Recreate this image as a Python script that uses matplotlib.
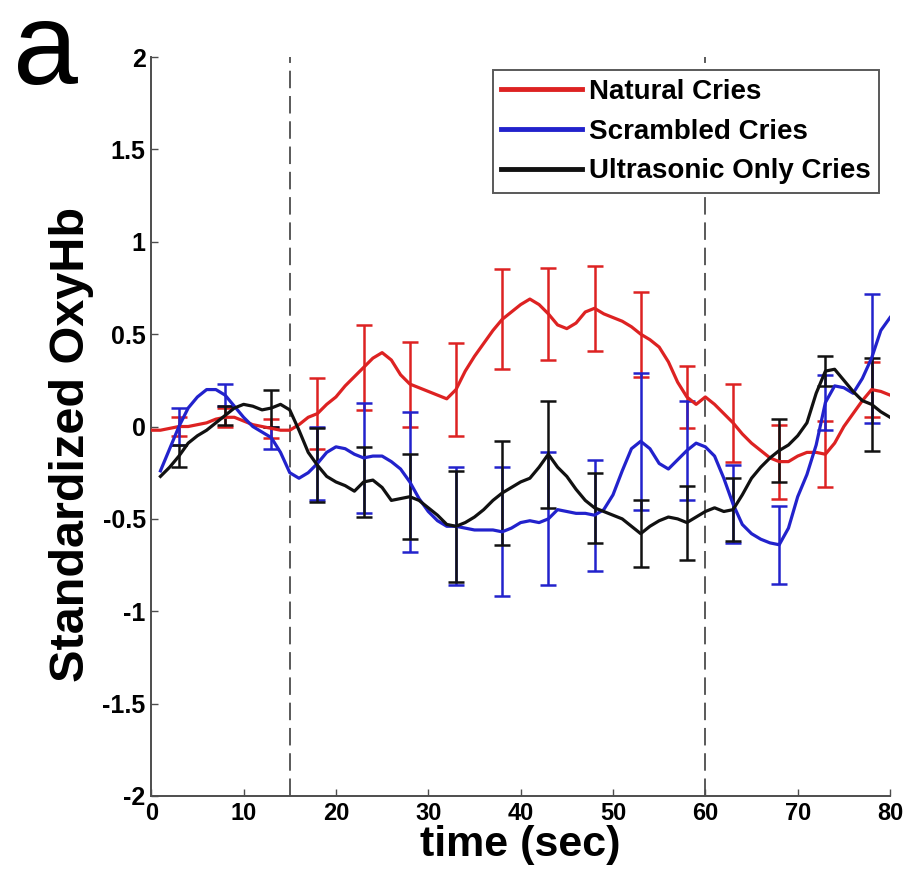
import numpy as np
import matplotlib
matplotlib.use("Agg")
import matplotlib.pyplot as plt

plt.rcParams['font.family'] = ['Liberation Sans', 'DejaVu Sans']

# time axis (sec)
t_red = list(range(0, 81))
t_other = list(range(1, 81))

natural = [-0.02, -0.02, -0.01, 0.00, 0.00, 0.01, 0.02, 0.04, 0.05, 0.05,
           0.03, 0.01, 0.00, -0.01, -0.02, -0.02, 0.01, 0.05, 0.07, 0.12,
           0.16, 0.22, 0.27, 0.32, 0.37, 0.40, 0.36, 0.28, 0.23, 0.21,
           0.19, 0.17, 0.15, 0.20, 0.30, 0.38, 0.45, 0.52, 0.58, 0.62,
           0.66, 0.69, 0.66, 0.61, 0.55, 0.53, 0.56, 0.62, 0.64, 0.61,
           0.59, 0.57, 0.54, 0.50, 0.47, 0.43, 0.35, 0.24, 0.16, 0.12,
           0.16, 0.12, 0.07, 0.02, -0.04, -0.09, -0.13, -0.17, -0.19, -0.19,
           -0.16, -0.14, -0.14, -0.15, -0.09, 0.00, 0.07, 0.14, 0.20, 0.19,
           0.17]

scrambled = [-0.24, -0.12, 0.00, 0.10, 0.16, 0.20, 0.20, 0.17, 0.11, 0.05,
             0.00, -0.03, -0.06, -0.14, -0.25, -0.28, -0.25, -0.20, -0.14, -0.11,
             -0.12, -0.15, -0.17, -0.16, -0.16, -0.19, -0.23, -0.30, -0.39, -0.46,
             -0.51, -0.54, -0.54, -0.55, -0.56, -0.56, -0.56, -0.57, -0.55, -0.52,
             -0.51, -0.52, -0.50, -0.45, -0.46, -0.47, -0.47, -0.48, -0.45, -0.37,
             -0.24, -0.12, -0.08, -0.12, -0.20, -0.23, -0.18, -0.13, -0.09, -0.11,
             -0.16, -0.28, -0.42, -0.53, -0.58, -0.61, -0.63, -0.64, -0.55, -0.38,
             -0.26, -0.10, 0.13, 0.22, 0.21, 0.18, 0.26, 0.37, 0.52, 0.59]

ultrasonic = [-0.27, -0.22, -0.16, -0.09, -0.05, -0.02, 0.02, 0.06, 0.10, 0.12,
              0.11, 0.09, 0.10, 0.12, 0.09, -0.02, -0.14, -0.21, -0.27, -0.30,
              -0.32, -0.35, -0.30, -0.29, -0.33, -0.40, -0.39, -0.38, -0.40, -0.44,
              -0.48, -0.53, -0.54, -0.52, -0.49, -0.45, -0.40, -0.36, -0.33, -0.30,
              -0.28, -0.22, -0.15, -0.22, -0.27, -0.34, -0.40, -0.44, -0.46, -0.48,
              -0.50, -0.54, -0.58, -0.54, -0.51, -0.49, -0.50, -0.52, -0.49, -0.46,
              -0.44, -0.46, -0.45, -0.37, -0.28, -0.22, -0.17, -0.13, -0.10, -0.05,
              0.02, 0.18, 0.30, 0.31, 0.25, 0.19, 0.14, 0.12, 0.08, 0.05]

# error bars every 5 s
err_t = [3, 8, 13, 18, 23, 28, 33, 38, 43, 48, 53, 58, 63, 68, 73, 78]
natural_err = [0.05, 0.05, 0.05, 0.19, 0.23, 0.23, 0.25, 0.27,
               0.25, 0.23, 0.23, 0.17, 0.21, 0.20, 0.18, 0.15]
scrambled_err = [0.10, 0.06, 0.06, 0.20, 0.30, 0.38, 0.32, 0.35,
                 0.36, 0.30, 0.37, 0.27, 0.21, 0.21, 0.15, 0.35]
ultrasonic_err = [0.06, 0.05, 0.10, 0.20, 0.19, 0.23, 0.30, 0.28,
                  0.29, 0.19, 0.18, 0.20, 0.17, 0.17, 0.08, 0.25]

series = [
    ("Natural Cries", t_red, natural, natural_err, '#dd2222'),
    ("Scrambled Cries", t_other, scrambled, scrambled_err, '#2222cc'),
    ("Ultrasonic Only Cries", t_other, ultrasonic, ultrasonic_err, '#111111'),
]

fig = plt.figure(figsize=(9.11, 8.86), dpi=100)
ax = fig.add_axes([0.166, 0.1016, 0.811, 0.834])

handles = []
for name, t, y, e, c in series:
    h, = ax.plot(t, y, color=c, lw=2.3, label=name, zorder=3)
    handles.append(h)
    ey = [y[t.index(x)] for x in err_t]
    ax.errorbar(err_t, ey, yerr=e, fmt='none', ecolor=c, elinewidth=1.8,
                capsize=6, capthick=1.8, zorder=2)

# stimulus onset / offset
for xv in (15, 60):
    ax.axvline(xv, color='0.35', lw=1.4, ls=(0, (9, 4)), zorder=1)

ax.set_xlim(0, 80)
ax.set_ylim(-2, 2)
ax.set_xticks(range(0, 81, 10))
ax.set_yticks([-2, -1.5, -1, -0.5, 0, 0.5, 1, 1.5, 2])
ax.set_yticklabels(['-2', '-1.5', '-1', '-0.5', '0', '0.5', '1', '1.5', '2'])
for s in ('top', 'right'):
    ax.spines[s].set_visible(False)
for s in ('left', 'bottom'):
    ax.spines[s].set_color('0.3')
    ax.spines[s].set_linewidth(1.4)
ax.tick_params(direction='in', length=5, width=1, color='0.3')
ax.tick_params(axis='x', labelsize=17, pad=4)
ax.tick_params(axis='y', labelsize=18, pad=4)
for lab in ax.get_xticklabels() + ax.get_yticklabels():
    lab.set_fontweight('bold')

ax.set_xlabel('time (sec)', fontsize=31, fontweight='bold', labelpad=0)
ax.set_ylabel('Standardized OxyHb', fontsize=35, fontweight='bold')
ax.yaxis.set_label_coords(-0.078, 0.476)

leg = ax.legend(handles=handles, loc='upper right', bbox_to_anchor=(0.985, 0.982),
                borderaxespad=0, prop={'size': 20, 'weight': 'bold'},
                handlelength=2.9, handletextpad=0.25, labelspacing=0.5,
                borderpad=0.3, fancybox=False, framealpha=1, edgecolor='0.35')
leg.get_frame().set_linewidth(1.4)
for line in leg.get_lines():
    line.set_linewidth(3.5)

fig.text(0.014, 0.905, 'a', fontsize=84, ha='left', va='baseline')

fig.savefig('out.png', dpi=100)
